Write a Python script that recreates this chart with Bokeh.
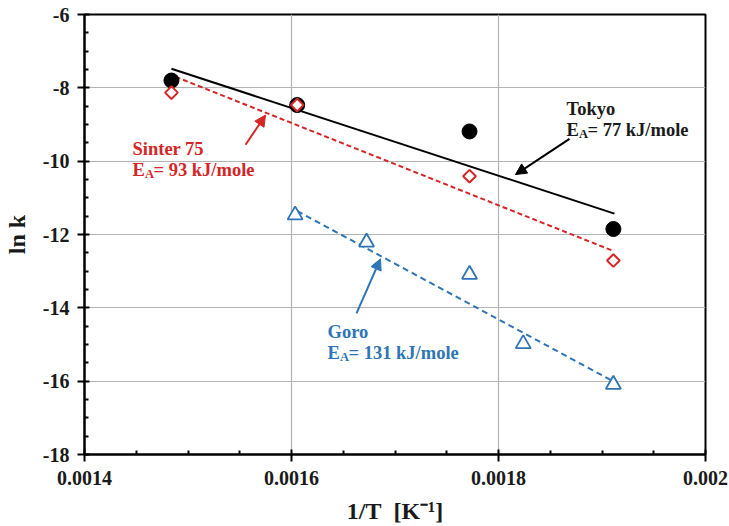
import numpy as np
from bokeh.plotting import figure
from bokeh.models import FixedTicker, CustomJSTickFormatter, Arrow, NormalHead, Label
from bokeh.embed import file_html
from bokeh.resources import INLINE

# ---------------- data ----------------
tokyo_x = [0.001484, 0.0016055, 0.001772, 0.001911]
tokyo_y = [-7.80, -8.47, -9.19, -11.85]
sinter_x = [0.001484, 0.0016055, 0.001772, 0.001911]
sinter_y = [-8.13, -8.47, -10.41, -12.71]
goro_x = [0.0016035, 0.0016725, 0.001772, 0.0018239, 0.001911]
goro_y = [-11.47, -12.21, -13.09, -14.98, -16.09]

# fitted Arrhenius lines (end points)
tokyo_fit_x = [0.001484, 0.001912]
tokyo_fit_y = [-7.48, -11.43]
sinter_fit_x = [0.001488, 0.001911]
sinter_fit_y = [-7.70, -12.45]
goro_fit_x = [0.0016055, 0.00191]
goro_fit_y = [-11.36, -15.99]

x_ticks = [0.0014, 0.0016, 0.0018, 0.002]
x_tick_labels = ["0.0014", "0.0016", "0.0018", "0.002"]
x_minor = [0.00145, 0.0015, 0.00155, 0.00165, 0.0017, 0.00175, 0.00185, 0.0019, 0.00195]
y_ticks = [-18, -16, -14, -12, -10, -8, -6]
y_tick_labels = ["-18", "-16", "-14", "-12", "-10", "-8", "-6"]
y_minor = [-17.5, -17, -16.5, -15.5, -15, -14.5, -13.5, -13, -12.5, -11.5, -11, -10.5,
           -9.5, -9, -8.5, -7.5, -7, -6.5]

RED = "#D42626"
BLUE = "#2E75B6"
BLACK = "#000000"
FONT = "Liberation Serif"

p = figure(width=729, height=526, output_backend="svg", toolbar_location=None,
           x_range=(0.0014, 0.002), y_range=(-18, -6),
           min_border_left=84, min_border_right=24, min_border_top=14, min_border_bottom=69)
p.background_fill_color = "white"
p.border_fill_color = "white"
p.outline_line_color = "black"
p.outline_line_width = 2

fmt_code = """
let best = 0;
for (let i = 0; i < tvals.length; i++) {
  if (Math.abs(tvals[i] - tick) < Math.abs(tvals[best] - tick)) best = i;
}
return tlabels[best];
"""
p.xaxis.ticker = FixedTicker(ticks=x_ticks, minor_ticks=x_minor)
p.yaxis.ticker = FixedTicker(ticks=y_ticks, minor_ticks=y_minor)
p.xaxis.formatter = CustomJSTickFormatter(args=dict(tvals=x_ticks, tlabels=x_tick_labels), code=fmt_code)
p.yaxis.formatter = CustomJSTickFormatter(args=dict(tvals=y_ticks, tlabels=y_tick_labels), code=fmt_code)

for ax in (p.xaxis[0], p.yaxis[0]):
    ax.axis_line_width = 2
    ax.axis_line_color = "black"
    ax.major_tick_line_width = 2
    ax.major_tick_in = 5
    ax.major_tick_out = 7
    ax.minor_tick_line_width = 2
    ax.minor_tick_in = 4
    ax.minor_tick_out = 0
    ax.major_label_text_font = FONT
    ax.major_label_text_font_style = "bold"
    ax.major_label_text_font_size = "20px"
    ax.major_label_text_color = "#1a1a1a"
    ax.axis_label_text_font = FONT
    ax.axis_label_text_font_style = "bold"
    ax.axis_label_text_font_size = "24px"
    ax.axis_label_text_color = "#1a1a1a"

p.xaxis.major_label_standoff = 9
p.yaxis.major_label_standoff = 8
p.xaxis.axis_label = "1/T\u00a0 [K\u207b\u00b9]"
p.yaxis.axis_label = "ln k"
p.xaxis.axis_label_standoff = 10
p.yaxis.axis_label_standoff = 10

p.xgrid.ticker = FixedTicker(ticks=x_ticks)
p.ygrid.ticker = FixedTicker(ticks=y_ticks)
p.grid.grid_line_color = "#B4B4B4"
p.grid.grid_line_width = 1.2

# fit lines
p.line(tokyo_fit_x, tokyo_fit_y, line_color=BLACK, line_width=2)
p.line(sinter_fit_x, sinter_fit_y, line_color=RED, line_width=2, line_dash="5 3")
p.line(goro_fit_x, goro_fit_y, line_color=BLUE, line_width=2, line_dash="6 4")

# markers
p.scatter(tokyo_x, tokyo_y, marker="circle", size=15, fill_color=BLACK, line_color=BLACK)
p.scatter(sinter_x, sinter_y, marker="square", angle=np.pi / 4, size=9,
          fill_color="white", line_color=RED, line_width=2)
p.scatter(goro_x, goro_y, marker="triangle", size=15,
          fill_color="white", line_color=BLUE, line_width=1.8)

# arrows
def arrow(x0, y0, x1, y1, color):
    p.add_layout(Arrow(x_start=x0, y_start=y0, x_end=x1, y_end=y1,
                       line_color=color, line_width=2,
                       end=NormalHead(size=11, fill_color=color, line_color=color)))

arrow(0.0015556, -9.554, 0.0015749, -8.743, RED)
arrow(0.0018686, -9.392, 0.0018164, -10.365, BLACK)
arrow(0.0016628, -14.149, 0.001686, -12.662, BLUE)

# annotation texts
def annot(x, y1, y2, name, ea_text, color):
    common = dict(text_font=FONT, text_font_style="bold", text_color=color,
                  text_baseline="alphabetic", text_align="left")
    p.add_layout(Label(x=x, y=y1, text=name, text_font_size="18.5px", **common))
    p.add_layout(Label(x=x, y=y2, text="E", text_font_size="18.5px", **common))
    p.add_layout(Label(x=x, y=y2, x_offset=12.5, y_offset=-4, text="A",
                       text_font_size="12.5px", **common))
    p.add_layout(Label(x=x, y=y2, x_offset=21, text=ea_text, text_font_size="18.5px", **common))

annot(0.0014464, -9.662, -10.23, "Sinter 75", "= 93 kJ/mole", RED)
annot(0.0018657, -8.58, -9.15, "Tokyo", "= 77 kJ/mole", "#1a1a1a")
annot(0.0016348, -14.66, -15.23, "Goro", "= 131 kJ/mole", BLUE)

open("out.html", "w").write(file_html(p, INLINE))
